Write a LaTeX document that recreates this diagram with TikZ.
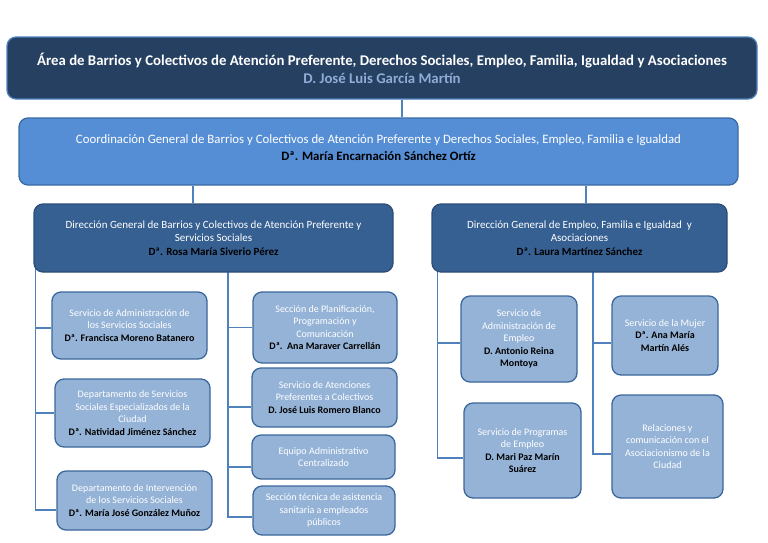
\documentclass[tikz,border=0pt]{standalone}
\usepackage{fontspec}
\setmainfont{Carlito}
\usetikzlibrary{backgrounds}

\definecolor{areafill}{RGB}{38,64,98}
\definecolor{areaborder}{RGB}{79,129,189}
\definecolor{areaname}{RGB}{142,172,214}
\definecolor{coordfill}{RGB}{85,142,213}
\definecolor{coordborder}{RGB}{58,106,165}
\definecolor{dirfill}{RGB}{55,96,146}
\definecolor{dirborder}{RGB}{44,77,119}
\definecolor{unitfill}{RGB}{149,179,215}
\definecolor{unitborder}{RGB}{59,103,156}
\definecolor{linecol}{RGB}{79,129,189}

\begin{document}
\begin{tikzpicture}[x=1pt, y=-1pt,
  box/.style = {draw, rounded corners=9pt, line width=1.3pt, align=center, inner sep=2pt},
  area/.style = {box, fill=areafill, draw=areaborder, text=white, font=\fontsize{14.8}{18}\selectfont\bfseries},
  coord/.style = {box, fill=coordfill, draw=coordborder, text=white, font=\fontsize{12.8}{17}\selectfont},
  dir/.style = {box, fill=dirfill, draw=dirborder, text=white, font=\fontsize{11}{13.5}\selectfont},
  unit/.style = {box, fill=unitfill, draw=unitborder, text=white, font=\fontsize{10}{12.5}\selectfont},
  line/.style = {draw=linecol, line width=1.1pt}]
\useasboundingbox (0,0) rectangle (768,542);

\node[area, minimum width=750pt, minimum height=62pt] (T) at (382,68) {Área de Barrios y Colectivos de Atención Preferente, Derechos Sociales, Empleo, Familia, Igualdad y Asociaciones\\\textcolor{areaname}{D. José Luis García Martín}};
\node[coord, minimum width=719pt, minimum height=67pt] (C) at (378.5,151.5) {Coordinación General de Barrios y Colectivos de Atención Preferente y Derechos Sociales, Empleo, Familia e Igualdad\\\textcolor{black}{\bfseries Dª. María Encarnación Sánchez Ortíz}\\[-9pt]};

\node[dir, minimum width=359pt, minimum height=68pt] (DG1) at (213.5,238) {Dirección General de Barrios y Colectivos de Atención Preferente y\\Servicios Sociales\\\textcolor{black}{\bfseries Dª. Rosa María Siverio Pérez}};
\node[dir, minimum width=295pt, minimum height=68pt] (DG2) at (579.5,238) {Dirección General de Empleo, Familia e Igualdad\ \ y\\Asociaciones\\\textcolor{black}{\bfseries Dª. Laura Martínez Sánchez}};

% barrios y servicios sociales
\node[unit, minimum width=155pt, minimum height=67pt] (A) at (129.5,325.5) {Servicio de Administración de\\los Servicios Sociales\\\textcolor{black}{\bfseries Dª. Francisca Moreno Batanero}};
\node[unit, minimum width=155pt, minimum height=68pt] (B) at (132.5,413) {Departamento de Servicios\\Sociales Especializados de la\\Ciudad\\\textcolor{black}{\bfseries Dª. Natividad Jiménez Sánchez}};
\node[unit, minimum width=155pt, minimum height=59pt] (C3) at (134.5,500.5) {Departamento de Intervención\\de los Servicios Sociales\\\textcolor{black}{\bfseries Dª. María José González Muñoz}};

\node[unit, minimum width=144pt, minimum height=71pt] (D) at (325,327.5) {Sección de Planificación,\\Programación y\\Comunicación\\\textcolor{black}{\bfseries Dª.\ \ Ana Maraver Carrellán}};
\node[unit, minimum width=145pt, minimum height=59pt] (E) at (324.5,397.5) {Servicio de Atenciones\\Preferentes a Colectivos\\\textcolor{black}{\bfseries D. José Luis Romero Blanco}};
\node[unit, minimum width=143pt, minimum height=44pt] (F) at (323.5,457) {Equipo Administrativo\\Centralizado};
\node[unit, minimum width=142pt, minimum height=49pt] (G) at (324,510.5) {Sección técnica de asistencia\\sanitaria a empleados\\públicos};

% empleo, familia e igualdad
\node[unit, minimum width=116pt, minimum height=86pt] (H) at (519,339) {Servicio de\\Administración de\\Empleo\\\textcolor{black}{\bfseries D. Antonio Reina}\\\textcolor{black}{\bfseries Montoya}};
\node[unit, minimum width=117pt, minimum height=95pt] (I) at (522.5,450.5) {Servicio de Programas\\de Empleo\\\textcolor{black}{\bfseries D. Mari Paz Marín}\\\textcolor{black}{\bfseries Suárez}};
\node[unit, minimum width=106pt, minimum height=79pt] (J) at (665,335.5) {Servicio de la Mujer\\\textcolor{black}{\bfseries Dª. Ana María}\\\textcolor{black}{\bfseries Martín Alés}};
\node[unit, minimum width=111pt, minimum height=103pt] (K) at (667.5,446.5) {Relaciones y\\comunicación con el\\Asociacionismo de la\\Ciudad};

\begin{pgfonlayer}{background}
\draw[line] ([xshift=20pt]T.south) -- ([xshift=20pt]T.south |- C.north);
\draw[line] ([xshift=-20.5pt]DG1.north |- C.south) -- ([xshift=-20.5pt]DG1.north);
\draw[line] ([xshift=6.5pt]DG2.north |- C.south) -- ([xshift=6.5pt]DG2.north);

\draw[line] ([xshift=2pt]DG1.west) |- ([yshift=-2.5pt]A.west);
\draw[line] ([xshift=2pt]DG1.west) |- (B.west);
\draw[line] ([xshift=2pt]DG1.west) |- ([yshift=-9.5pt]C3.west);

\draw[line] ([xshift=14.5pt]DG1.center) |- (D.west);
\draw[line] ([xshift=14.5pt]DG1.center) |- ([yshift=-9.5pt]E.west);
\draw[line] ([xshift=14.5pt]DG1.center) |- ([yshift=-10pt]F.west);
\draw[line] ([xshift=14.5pt]DG1.center) |- ([yshift=-6.5pt]G.west);

\draw[line] ([xshift=6pt]DG2.west) |- ([yshift=-4pt]H.west);
\draw[line] ([xshift=6pt]DG2.west) |- ([yshift=-7.5pt]I.west);
\draw[line] ([xshift=13.5pt]DG2.center) |- ([yshift=-7.5pt]J.west);
\draw[line] ([xshift=13.5pt]DG2.center) |- ([yshift=-7.5pt]K.west);
\end{pgfonlayer}
\end{tikzpicture}
\end{document}
